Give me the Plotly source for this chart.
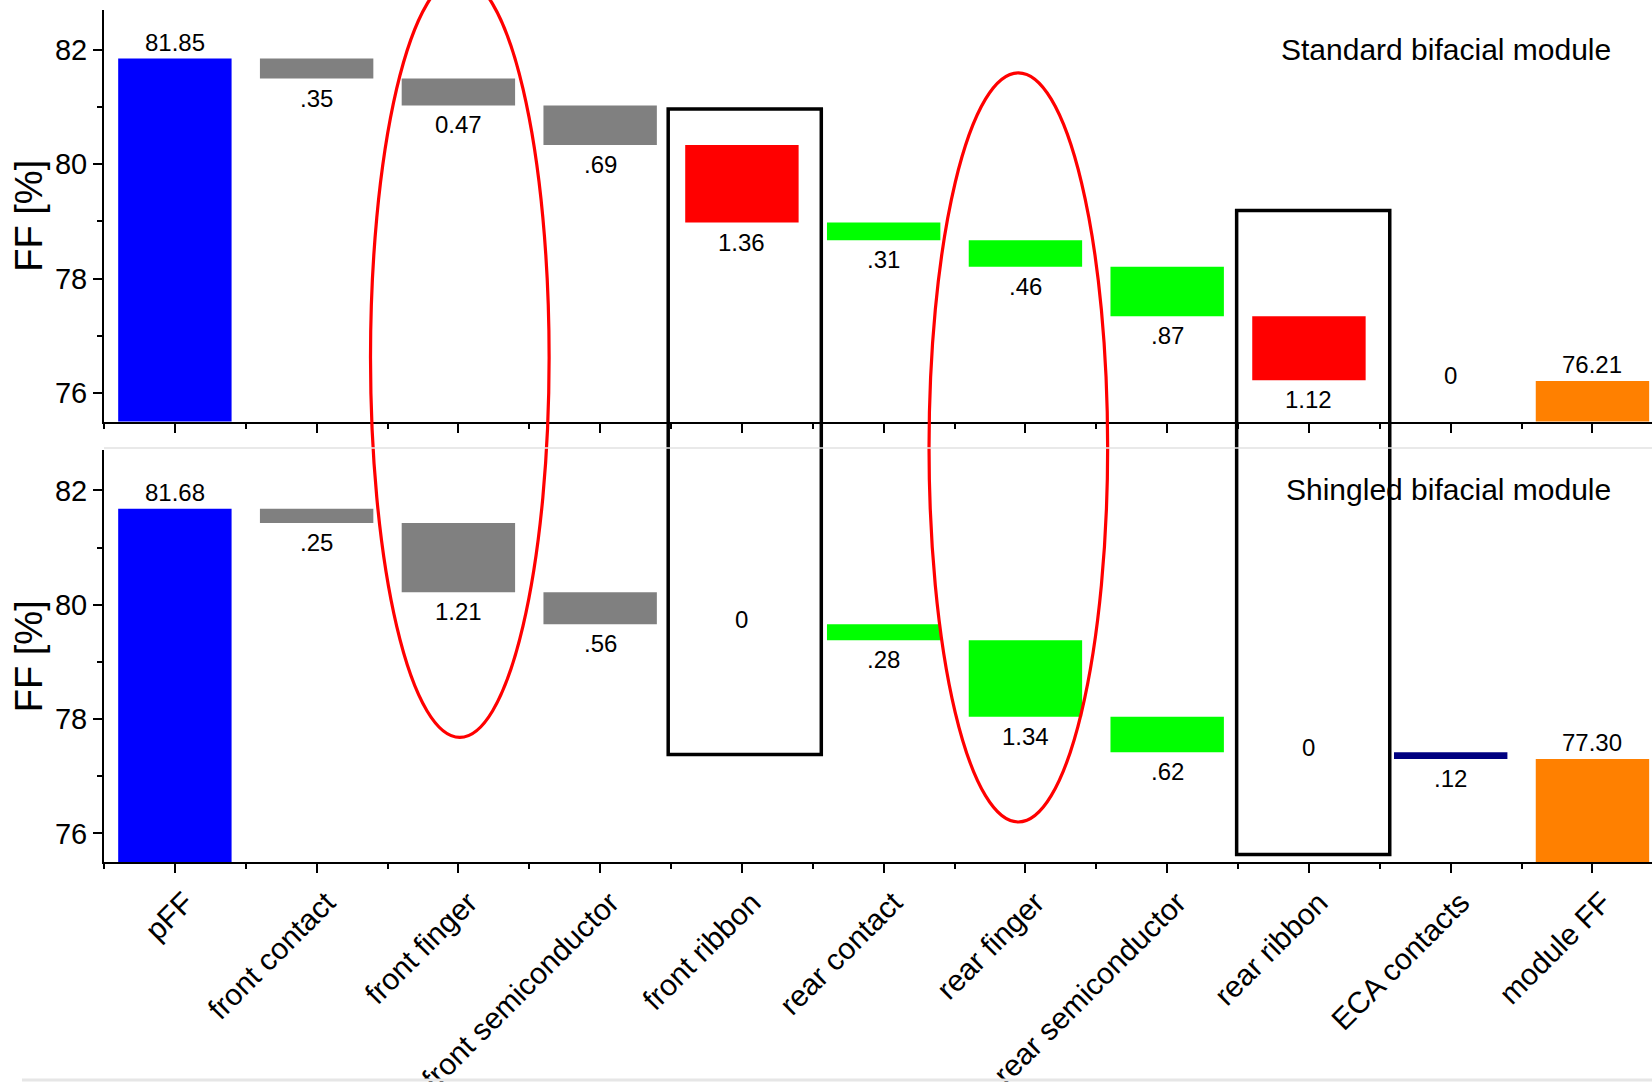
import plotly.graph_objects as go

# ---------------------------------------------------------------- data
categories = ["pFF", "front contact", "front finger", "front semiconductor",
              "front ribbon", "rear contact", "rear finger", "rear semiconductor",
              "rear ribbon", "ECA contacts", "module FF"]

# Standard bifacial module: pseudo FF, FF losses per mechanism, module FF
standard_pff = 81.85
standard_losses = [0.35, 0.47, 0.69, 1.36, 0.31, 0.46, 0.87, 1.12, 0.0]
standard_loss_labels = [".35", "0.47", ".69", "1.36", ".31", ".46", ".87", "1.12", "0"]
standard_module_ff = 76.21

# Shingled bifacial module
shingled_pff = 81.68
shingled_losses = [0.25, 1.21, 0.56, 0.0, 0.28, 1.34, 0.62, 0.0, 0.12]
shingled_loss_labels = [".25", "1.21", ".56", "0", ".28", "1.34", ".62", "0", ".12"]
shingled_module_ff = 77.30

panel_titles = ["Standard bifacial module", "Shingled bifacial module"]

# colours
PFF_COLOR = "#0000FF"
MODULE_COLOR = "#FF8000"
loss_colors = ["#808080", "#808080", "#808080", "#FF0000",
               "#00FF00", "#00FF00", "#00FF00", "#FF0000", "#000080"]

# ---------------------------------------------------------------- layout constants
W, H = 1652, 1082
M_L, M_R, M_T, M_B = 104, 0, 10, 220
X_RANGE = [-0.5, 10.42]
Y_RANGE = [75.5, 82.7]
TOP_DOMAIN = [0.517, 1.0]
BOTTOM_DOMAIN = [0.0, 0.483]
BAR_W = 0.8
FONT = "Liberation Sans, Arial, sans-serif"


def paper_x(v):
    return (v - X_RANGE[0]) / (X_RANGE[1] - X_RANGE[0])


def paper_y(v, domain):
    return domain[0] + (v - Y_RANGE[0]) / (Y_RANGE[1] - Y_RANGE[0]) * (domain[1] - domain[0])


def pixel_to_paper_y(py):
    plot_h = H - M_T - M_B
    return (H - M_B - py) / plot_h


fig = go.Figure()
annotations = []

panels = [
    (standard_pff, standard_losses, standard_loss_labels, standard_module_ff, "x", "y", "y"),
    (shingled_pff, shingled_losses, shingled_loss_labels, shingled_module_ff, "x2", "y2", "y2"),
]

for p, (pff, losses, loss_labels, module_ff, xa, ya, yref) in enumerate(panels):
    # starting FF
    fig.add_trace(go.Bar(x=[0], y=[pff], width=BAR_W, marker_color=PFF_COLOR,
                         marker_line_width=0, xaxis=xa, yaxis=ya, showlegend=False))
    annotations.append(dict(x=0, y=pff, xref=xa, yref=yref, text=f"{pff:.2f}",
                            showarrow=False, yanchor="bottom", yshift=1,
                            font=dict(size=24, color="black", family=FONT)))

    # floating loss bars, stepping down from pFF
    level = pff
    for i, (loss, lab) in enumerate(zip(losses, loss_labels)):
        xi = i + 1
        after = level - loss
        if loss > 0:
            fig.add_trace(go.Bar(x=[xi], y=[loss], base=[after], width=BAR_W,
                                 marker_color=loss_colors[i], marker_line_width=0,
                                 xaxis=xa, yaxis=ya, showlegend=False))
            annotations.append(dict(x=xi, y=after, xref=xa, yref=yref, text=lab,
                                    showarrow=False, yanchor="top", yshift=-4,
                                    font=dict(size=24, color="black", family=FONT)))
        else:
            annotations.append(dict(x=xi, y=after, xref=xa, yref=yref, text=lab,
                                    showarrow=False, yanchor="middle", yshift=5,
                                    font=dict(size=24, color="black", family=FONT)))
        level = after

    # resulting module FF
    fig.add_trace(go.Bar(x=[10], y=[module_ff], width=BAR_W, marker_color=MODULE_COLOR,
                         marker_line_width=0, xaxis=xa, yaxis=ya, showlegend=False))
    annotations.append(dict(x=10, y=module_ff, xref=xa, yref=yref, text=f"{module_ff:.2f}",
                            showarrow=False, yanchor="bottom", yshift=1,
                            font=dict(size=24, color="black", family=FONT)))

# panel titles
for title, dom in zip(panel_titles, [TOP_DOMAIN, BOTTOM_DOMAIN]):
    annotations.append(dict(x=0.975, y=dom[0] + 0.904 * (dom[1] - dom[0]),
                            xref="paper", yref="paper", text=title, showarrow=False,
                            xanchor="right", yanchor="middle",
                            font=dict(size=30, color="black", family=FONT)))

# ---------------------------------------------------------------- highlight shapes
shapes = []
# red ellipses around the finger losses (front and rear)
for xc, y_bot, y_top in [(2.01, 77.68, 83.27), (5.95, 76.2, 81.6)]:
    shapes.append(dict(type="circle", xref="paper", yref="paper",
                       x0=paper_x(xc - 0.63), x1=paper_x(xc + 0.63),
                       y0=paper_y(y_bot, BOTTOM_DOMAIN), y1=paper_y(y_top, TOP_DOMAIN),
                       line=dict(color="#FF0000", width=3.2), layer="above"))
# black frames around the ribbon losses (front and rear)
for x0, x1, y_bot, y_top in [(3.48, 4.56, 77.38, 80.97), (7.49, 8.57, 75.63, 79.19)]:
    shapes.append(dict(type="rect", xref="paper", yref="paper",
                       x0=paper_x(x0), x1=paper_x(x1),
                       y0=paper_y(y_bot, BOTTOM_DOMAIN), y1=paper_y(y_top, TOP_DOMAIN),
                       line=dict(color="#000000", width=3.5), layer="above"))
# faint separator lines between the stacked panels and at the foot
shapes.append(dict(type="line", xref="paper", yref="paper", x0=0, x1=1,
                   y0=pixel_to_paper_y(448), y1=pixel_to_paper_y(448),
                   line=dict(color="#e2e2e2", width=1.5)))
shapes.append(dict(type="line", xref="paper", yref="paper", x0=-0.053, x1=1,
                   y0=pixel_to_paper_y(1080), y1=pixel_to_paper_y(1080),
                   line=dict(color="#e6e6e6", width=3)))

# ---------------------------------------------------------------- axes
y_tick_font = dict(size=29, color="black", family=FONT)
x_tick_font = dict(size=30, color="black", family=FONT)
minor_x = [i - 0.5 for i in range(len(categories) + 1)]

common_x = dict(range=X_RANGE, showline=True, linewidth=2, linecolor="black",
                ticks="outside", ticklen=9, tickwidth=1.5, tickcolor="black",
                tickvals=list(range(len(categories))), ticktext=categories,
                minor=dict(tickvals=minor_x, ticks="outside", ticklen=5,
                           tickwidth=1.5, tickcolor="black"),
                showgrid=False, zeroline=False, fixedrange=True)

common_y = dict(range=Y_RANGE, showline=True, linewidth=2, linecolor="black",
                ticks="outside", ticklen=9, tickwidth=1.5, tickcolor="black",
                tick0=76, dtick=2,
                minor=dict(tick0=75, dtick=1, ticks="outside", ticklen=5,
                           tickwidth=1.5, tickcolor="black"),
                showgrid=False, zeroline=False, tickfont=y_tick_font,
                title=dict(text="FF [%]", font=dict(size=38, color="black", family=FONT),
                           standoff=1))

top_frame = dict(range=[0, 4.96], side="top", showline=True, linewidth=2,
                 linecolor="black", ticks="inside", ticklen=9, tickwidth=1.5,
                 tickcolor="black", tick0=0, dtick=1, showticklabels=False,
                 minor=dict(dtick=0.5, ticks="inside", ticklen=5, tickwidth=1.5,
                            tickcolor="black"),
                 showgrid=False, zeroline=False)

fig.update_layout(
    width=W, height=H,
    margin=dict(l=M_L, r=M_R, t=M_T, b=M_B, autoexpand=False),
    paper_bgcolor="white", plot_bgcolor="white",
    font=dict(family=FONT, color="black"),
    barmode="overlay",
    showlegend=False,
    xaxis=dict(**common_x, anchor="y", domain=[0, 1], showticklabels=False),
    xaxis2=dict(**common_x, anchor="y2", domain=[0, 1], tickangle=-45,
                tickfont=x_tick_font, ticklabelshift=10),
    xaxis3=dict(**top_frame, overlaying="x", anchor="y"),
    xaxis4=dict(**top_frame, overlaying="x2", anchor="y2"),
    yaxis=dict(**common_y, anchor="x", domain=TOP_DOMAIN),
    yaxis2=dict(**common_y, anchor="x2", domain=BOTTOM_DOMAIN),
    annotations=annotations,
    shapes=shapes,
)

fig.write_html("out.html")
